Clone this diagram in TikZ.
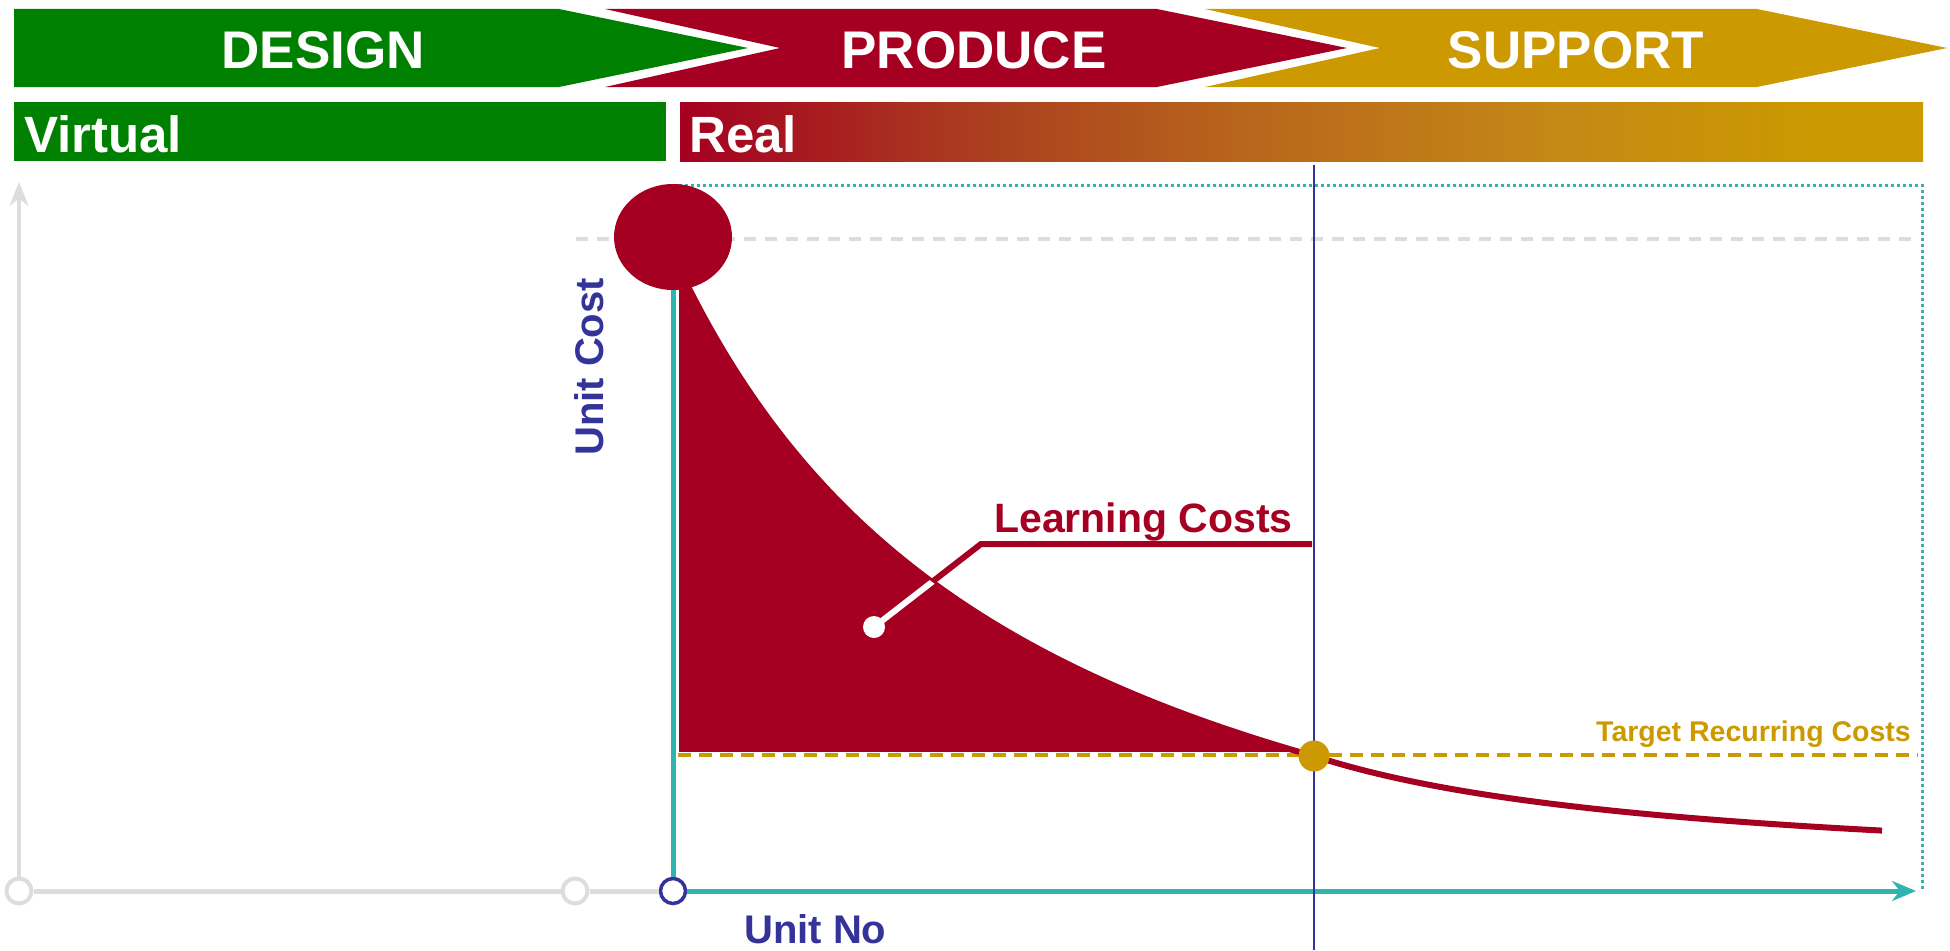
\documentclass[tikz,border=0pt]{standalone}
\usepackage{fontspec}
\setmainfont{Liberation Sans}
\usetikzlibrary{shapes.geometric,arrows.meta}
\definecolor{cGreen}{HTML}{008000}
\definecolor{cRed}{HTML}{A50021}
\definecolor{cGold}{HTML}{CC9900}
\definecolor{cTeal}{HTML}{30B4AE}
\definecolor{cBlue}{HTML}{333399}
\definecolor{cGray}{HTML}{DDDDDD}
\definecolor{cGa}{HTML}{AB401F}
\definecolor{cGb}{HTML}{B8651C}
\definecolor{cGc}{HTML}{C48816}
\pgfdeclarehorizontalshading{realshade}{100bp}{color(0bp)=(cRed); color(25bp)=(cRed); color(37.5bp)=(cGa); color(47.5bp)=(cGb); color(60bp)=(cGc); color(71bp)=(cGold); color(100bp)=(cGold)}
\tikzset{
 phase/.style={anchor=base, inner sep=0pt, text=white, font=\bfseries\fontsize{53}{60}\selectfont},
 bartext/.style={anchor=base west, inner sep=0pt, text=white, font=\bfseries\fontsize{51}{58}\selectfont},
 axislabel/.style={inner sep=0pt, text=cBlue, font=\bfseries\fontsize{40}{46}\selectfont},
 graycirc/.style={circle, draw=cGray, fill=white, line width=4pt, minimum size=25pt, inner sep=0pt},
 bluecirc/.style={graycirc, draw=cBlue, line width=3.5pt},
 grayline/.style={draw=cGray, line width=5pt},
 grayaxis/.style={draw=cGray, line width=4pt},
 tealline/.style={draw=cTeal, line width=5pt},
 tealdot/.style={draw=cTeal, line width=3pt, dash pattern=on 3pt off 3pt},
 graydash/.style={draw=cGray, line width=4pt, dash pattern=on 12pt off 9pt},
 golddash/.style={draw=cGold, line width=3.5pt, dash pattern=on 13pt off 8pt},
 leader/.style={draw=cRed, line width=6pt},
 curveline/.style={draw=cRed, line width=6pt},
 vline/.style={draw=cBlue, line width=2.5pt},
 whitedot/.style={circle, fill=white, minimum size=22pt, inner sep=0pt},
 golddot/.style={circle, fill=cGold, minimum size=31pt, inner sep=0pt},
 peakstyle/.style={ellipse, fill=cRed, minimum width=118pt, minimum height=106pt, inner sep=0pt},
}
% learning curve: head part and tail part (pixel units, y downwards)
\newcommand{\headfn}[1]{1039.8-2848/((#1-310)/100)}
\newcommand{\tailfn}[1]{881-480/((#1-930)/100)}
\begin{document}
\begin{tikzpicture}[x=1pt,y=-1pt]
\useasboundingbox (0,0) rectangle (1950,950);
% phase chevrons
\fill[cGreen] (14,9) -- (559,9) -- (748,48) -- (559,87) -- (14,87) -- cycle;
\fill[cRed] (605,9) -- (1157,9) -- (1347,48) -- (1157,87) -- (605,87) -- (780,48) -- cycle;
\fill[cGold] (1205,9) -- (1757,9) -- (1947,48) -- (1757,87) -- (1205,87) -- (1380,48) -- cycle;
\node[phase] (design) at (323,68) {DESIGN};
\node[phase] (produce) at (974,68) {PRODUCE};
\node[phase] (support) at (1576,68) {SUPPORT};
% virtual / real bars
\fill[cGreen] (14,102) rectangle (666,161);
\shade[shading=realshade] (680,102) rectangle (1923,161);
\node[bartext] (virtual) at (24,152) {Virtual};
\node[bartext] (real) at (689,152) {Real};
% reference lines
\coordinate (g1) at (576,239);
\coordinate (g2) at (1918,239);
\draw[graydash] (g1) -- (g2);
\coordinate (ptop) at (673,185);
\coordinate (rt) at (1922,185);
\coordinate (rb) at (1922,891);
\draw[tealdot] (ptop) -- (rt) -- (rb);
% axes
\node[graycirc] (c1) at (19,891) {};
\node[graycirc] (c2) at (575,891) {};
\node[bluecirc] (c3) at (673,891) {};
\coordinate (ytop) at (19,182);
\coordinate (xend) at (1916,891);
\coordinate (vtop) at (673,260);
\draw[grayaxis, -{Stealth[length=24pt,width=19pt]}] (c1) -- (ytop);
\draw[grayline] (c1) -- (c2);
\draw[grayline] (c2) -- (c3);
\draw[tealline, -{Stealth[length=24pt,width=20pt]}] (c3) -- (xend);
\draw[tealline] (c3) -- (vtop);
% target line
\coordinate (tl) at (678,755);
\coordinate (tr) at (1918,755);
\draw[golddash] (tl) -- (tr);
% learning area
\begin{scope}
\clip (600,200) rectangle (1400,751);
\fill[cRed] (679,250) -- plot[domain=680:1314, samples=120] (\x,{\headfn{\x}}) -- (679,800) -- cycle;
\end{scope}
\draw[curveline] plot[domain=688:1314, samples=120] (\x,{\headfn{\x}}) -- plot[domain=1314:1882, samples=80] (\x,{\tailfn{\x}});
\node[peakstyle] (peak) at (673,237) {};
% leader for learning costs
\coordinate (ldotc) at (874,627);
\coordinate (lbend) at (981,544);
\coordinate (lend) at (1312,544);
\draw[leader] (ldotc) -- (lbend) -- (lend);
\begin{scope}
\clip (600,200) rectangle (1400,751);
\clip (679,250) -- plot[domain=680:1314, samples=120] (\x,{\headfn{\x}}) -- (679,800) -- cycle;
\draw[leader, draw=white] (ldotc) -- (lbend);
\end{scope}
\node[whitedot] (ldot) at (ldotc) {};
% vertical marker
\coordinate (bt) at (1314,165);
\coordinate (bb) at (1314,950);
\draw[vline] (bt) -- (bb);
\node[golddot] (target) at (1314,756) {};
% labels
\node[anchor=base west, inner sep=0pt, text=cRed, font=\bfseries\fontsize{41}{48}\selectfont] (lc) at (994,532) {Learning Costs};
\node[anchor=base east, inner sep=0pt, text=cGold, font=\bfseries\fontsize{28.5}{34}\selectfont] (trc) at (1911,741) {Target Recurring Costs};
\node[axislabel, rotate=90, anchor=base west] (ucost) at (603,456) {Unit Cost};
\node[axislabel, anchor=base west] (uno) at (744,943) {Unit No};
\end{tikzpicture}
\end{document}
